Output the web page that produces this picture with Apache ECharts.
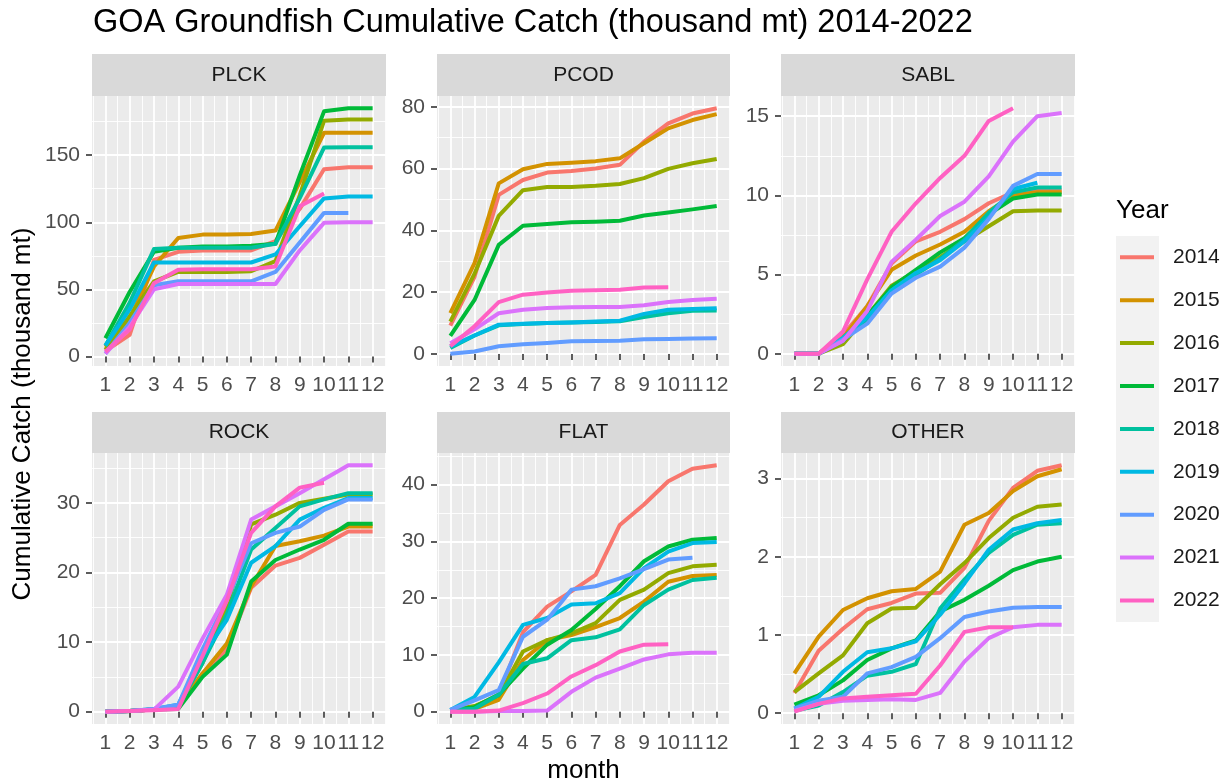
<!DOCTYPE html>
<html>
<head>
<meta charset="utf-8">
<script src="https://cdn.jsdelivr.net/npm/echarts@6/dist/echarts.min.js"></script>
<style>
html, body { margin: 0; padding: 0; background: #fff; }
#main { width: 1226px; height: 784px; }
</style>
</head>
<body>
<div id="main"></div>
<script>
// ---- data (thousand mt, cumulative by month) ----
var years = ['2014', '2015', '2016', '2017', '2018', '2019', '2020', '2021', '2022'];
var yearColors = ['#F8766D', '#D39200', '#93AA00', '#00BA38', '#00C19F', '#00B9E3', '#619CFF', '#DB72FB', '#FF61C3'];
var months = [1, 2, 3, 4, 5, 6, 7, 8, 9, 10, 11, 12];
var panels = ['PLCK', 'PCOD', 'SABL', 'ROCK', 'FLAT', 'OTHER'];

var plck = [
    [4, 16, 72, 78, 79, 79, 79, 86, 110, 139.5, 141, 141],
    [7, 28, 67, 88.3, 90.8, 90.8, 91.3, 93.8, 130, 166.7, 166.7, 166.7],
    [5, 30, 56, 63, 63, 63, 63.5, 71, 120, 175.7, 176.7, 176.7],
    [13.5, 48, 78, 81, 82, 82, 82.5, 84, 135, 182.7, 185, 185],
    [8, 40, 80, 81, 81, 81, 81, 84, 118, 155.7, 156, 156],
    [8, 35, 70, 70, 70, 70, 70, 76, 97, 117.8, 119.3, 119.3],
    [2, 25, 53, 56, 56, 56, 56, 63, 85, 107, 107],
    [2, 22, 50, 54, 54, 54, 54, 54, 79, 99.6, 100, 100],
    [3.5, 20, 54.6, 64.6, 65, 65, 65, 67, 112, 121.5]
];
var pcod = [
    [9.2, 25, 51.5, 56.3, 58.7, 59.2, 60, 61.2, 68.7, 74.6, 77.8, 79.5],
    [13.2, 29.4, 55.2, 59.8, 61.5, 61.9, 62.4, 63.3, 68.2, 73, 75.7, 77.6],
    [10.5, 26, 44.7, 53, 54, 54, 54.4, 55, 56.9, 59.9, 61.7, 63.1],
    [5.9, 17.5, 35.3, 41.5, 42.1, 42.6, 42.8, 43.1, 44.8, 45.8, 46.8, 47.9],
    [2, 6, 9.3, 9.7, 10, 10.2, 10.4, 10.6, 12, 13.2, 14, 14.1],
    [2.5, 6, 9.5, 9.8, 10, 10.2, 10.5, 10.8, 13, 14.3, 14.6, 14.8],
    [0.1, 0.8, 2.5, 3.2, 3.6, 4.1, 4.2, 4.3, 4.8, 4.9, 5, 5.1],
    [3.5, 8, 13.2, 14.3, 14.9, 15.1, 15.2, 15.2, 15.8, 16.8, 17.5, 17.9],
    [2.5, 9, 16.8, 19.2, 19.9, 20.5, 20.6, 20.8, 21.5, 21.6]
];
var sabl = [
    [0, 0, 1.2, 3.0, 5.7, 7.1, 7.7, 8.5, 9.5, 10.2, 10.3, 10.3],
    [0, 0, 1.0, 3.0, 5.3, 6.2, 6.9, 7.7, 9.0, 10.0, 10.2, 10.2],
    [0, 0, 0.6, 2.4, 4.3, 5.2, 6.1, 7.1, 8.05, 9.0, 9.05, 9.05],
    [0, 0, 0.8, 2.4, 4.2, 5.3, 6.4, 7.3, 8.8, 9.8, 10.05, 10.05],
    [0, 0, 0.9, 2.2, 4.0, 5.0, 6.0, 7.2, 8.9, 10.2, 10.5, 10.5],
    [0, 0, 1.0, 2.3, 4.0, 5.1, 5.9, 7.1, 8.6, 10.4, 10.8],
    [0, 0, 0.9, 1.9, 3.8, 4.8, 5.5, 6.7, 8.5, 10.6, 11.35, 11.35],
    [0, 0, 0.8, 2.7, 5.8, 7.2, 8.7, 9.6, 11.2, 13.4, 15.0, 15.2],
    [0, 0, 1.4, 4.7, 7.7, 9.5, 11.1, 12.5, 14.7, 15.5]
];
var rock = [
    [0, 0.1, 0.3, 0.5, 5.5, 9, 17.8, 21, 22.1, 24, 25.9, 25.9],
    [0, 0.1, 0.3, 0.6, 5.5, 9.8, 18, 23.8, 24.5, 25.3, 26.6, 26.6],
    [0, 0.1, 0.3, 0.8, 7, 15, 26.9, 28.3, 30, 30.6, 31.2, 31.2],
    [0, 0.1, 0.3, 0.4, 5, 8.2, 18.7, 21.8, 23.3, 24.7, 27, 27],
    [0, 0.1, 0.3, 0.8, 7, 14, 23.3, 26.4, 29.5, 30.5, 31.4, 31.4],
    [0, 0.1, 0.4, 1.0, 8, 13.2, 21.4, 23.8, 27.6, 29.3, 30.7, 30.7],
    [0, 0.1, 0.4, 1.0, 9, 16, 24.2, 25.7, 26.6, 29, 30.5, 30.5],
    [0, 0.1, 0.3, 3.6, 10.5, 16.8, 27.6, 29.5, 31.4, 33.4, 35.4, 35.4],
    [0, 0.1, 0.2, 0.4, 8, 16, 25.7, 29.5, 32.2, 32.9]
];
var flat = [
    [0.2, 0.8, 3, 14, 18.5, 21.2, 24.1, 32.9, 36.5, 40.6, 42.8, 43.4],
    [0.2, 0.5, 2.1, 9.1, 12.6, 13.5, 14.9, 16.5, 19.4, 22.9, 23.9, 24.1],
    [0.3, 1.0, 2.8, 10.6, 12.6, 13.8, 15.6, 19.7, 21.5, 24.4, 25.6, 25.9],
    [0.3, 0.8, 3.0, 7.6, 11.8, 14.4, 18.1, 22.1, 26.5, 29.1, 30.3, 30.6],
    [0.3, 0.5, 3.0, 8.4, 9.4, 12.6, 13.1, 14.5, 18.8, 21.5, 23.2, 23.6],
    [0.3, 2.6, 8.7, 15.3, 16.5, 18.9, 19.1, 20.9, 25.3, 28.2, 29.7, 29.9],
    [0.3, 2.0, 3.8, 13.2, 16.2, 21.5, 22.1, 23.5, 25.1, 26.8, 27.1],
    [0, 0, 0.1, 0.1, 0.2, 3.5, 6, 7.6, 9.2, 10.1, 10.4, 10.4],
    [0, 0, 0.2, 1.5, 3.2, 6.2, 8.2, 10.6, 11.8, 11.9]
];
var other = [
    [0.26, 0.8, 1.08, 1.33, 1.41, 1.53, 1.54, 1.86, 2.46, 2.88, 3.1, 3.17],
    [0.51, 0.98, 1.32, 1.47, 1.56, 1.59, 1.81, 2.41, 2.56, 2.84, 3.03, 3.12],
    [0.27, 0.51, 0.74, 1.15, 1.34, 1.35, 1.65, 1.92, 2.24, 2.5, 2.64, 2.67],
    [0.11, 0.23, 0.42, 0.68, 0.83, 0.93, 1.3, 1.45, 1.63, 1.83, 1.94, 2.0],
    [0.03, 0.1, 0.27, 0.48, 0.53, 0.63, 1.34, 1.71, 2.05, 2.28, 2.41, 2.43],
    [0.06, 0.21, 0.53, 0.78, 0.83, 0.92, 1.26, 1.66, 2.09, 2.35, 2.43, 2.47],
    [0.06, 0.16, 0.21, 0.51, 0.59, 0.72, 0.96, 1.23, 1.3, 1.35, 1.36, 1.36],
    [0.03, 0.12, 0.16, 0.17, 0.18, 0.17, 0.26, 0.66, 0.96, 1.1, 1.13, 1.13],
    [0.02, 0.12, 0.19, 0.21, 0.23, 0.25, 0.61, 1.04, 1.1, 1.1]
];

// y tick labels per panel
var plckTicks = [0, 50, 100, 150];
var pcodTicks = [0, 20, 40, 60, 80];
var sablTicks = [0, 5, 10, 15];
var rockTicks = [0, 10, 20, 30];
var flatTicks = [0, 10, 20, 30, 40];
var otherTicks = [0, 1, 2, 3];

// ---- layout ----
var FONT = '"Liberation Sans", Arial, sans-serif';
var SMALL = 21;
var colLeft = [92, 437, 781], colWidth = [294, 293, 294];
var rowTop = [96, 453], rowHeight = [270, 271];
var stripTop = [54, 412], stripHeight = [42, 41];

var panelData = [plck, pcod, sabl, rock, flat, other];
var panelTicks = [plckTicks, pcodTicks, sablTicks, rockTicks, flatTicks, otherTicks];

function expandRange(lo, hi) {
    var pad = (hi - lo) * 0.05;
    return [lo - pad, hi + pad];
}
function dataRange(rows) {
    var lo = Infinity, hi = -Infinity;
    rows.forEach(function (r) {
        r.forEach(function (v) { if (v < lo) lo = v; if (v > hi) hi = v; });
    });
    return expandRange(lo, hi);
}
// minor breaks halfway between majors, one extra step on each side
function minorOf(ticks, range) {
    var step = ticks[1] - ticks[0];
    var out = [];
    for (var i = -1; i < ticks.length; i++) {
        var v = +(ticks[0] + step * i + step / 2).toFixed(6);
        if (v >= range[0] && v <= range[1]) out.push(v);
    }
    return out;
}
function inRange(vals, range) {
    return vals.filter(function (v) { return v >= range[0] && v <= range[1]; });
}

var xRange = expandRange(months[0], months[months.length - 1]);
var xMinor = minorOf(months, xRange);

var grids = [], xAxes = [], yAxes = [], series = [], graphics = [];

panels.forEach(function (name, p) {
    var col = p % 3, row = Math.floor(p / 3);
    var yr = dataRange(panelData[p]);
    var major = inRange(panelTicks[p], yr);
    var minor = minorOf(panelTicks[p], yr);

    grids.push({
        left: colLeft[col], top: rowTop[row], width: colWidth[col], height: rowHeight[row],
        show: true, backgroundColor: '#EBEBEB', borderWidth: 0, outerBoundsMode: 'none'
    });

    // major x
    xAxes.push({
        type: 'value', gridIndex: p, min: xRange[0], max: xRange[1], position: 'bottom',
        axisLine: { show: false },
        axisTick: { show: true, customValues: months, length: 6, lineStyle: { color: '#333333', width: 1.6 } },
        axisLabel: { customValues: months, fontSize: SMALL, color: '#4D4D4D', margin: 9, fontFamily: FONT },
        splitLine: { show: true, lineStyle: { color: '#FFFFFF', width: 1.8 } }
    });
    // minor x
    xAxes.push({
        type: 'value', gridIndex: p, min: xRange[0], max: xRange[1], position: 'bottom',
        axisLine: { show: false },
        axisTick: { show: false, customValues: xMinor },
        axisLabel: { show: false, customValues: xMinor },
        splitLine: { show: true, lineStyle: { color: '#FFFFFF', width: 0.9 } }
    });
    // major y
    yAxes.push({
        type: 'value', gridIndex: p, min: yr[0], max: yr[1], position: 'left',
        axisLine: { show: false },
        axisTick: { show: true, customValues: major, length: 6, lineStyle: { color: '#333333', width: 1.6 } },
        axisLabel: { customValues: major, fontSize: SMALL, color: '#4D4D4D', margin: 12, fontFamily: FONT },
        splitLine: { show: true, lineStyle: { color: '#FFFFFF', width: 1.8 } }
    });
    // minor y
    yAxes.push({
        type: 'value', gridIndex: p, min: yr[0], max: yr[1], position: 'left',
        axisLine: { show: false },
        axisTick: { show: false, customValues: minor },
        axisLabel: { show: false, customValues: minor },
        splitLine: { show: true, lineStyle: { color: '#FFFFFF', width: 0.9 } }
    });

    years.forEach(function (y, k) {
        series.push({
            name: y,
            type: 'line',
            xAxisIndex: 2 * p,
            yAxisIndex: 2 * p,
            showSymbol: false,
            symbol: 'none',
            color: yearColors[k],
            lineStyle: { width: 4, color: yearColors[k], join: 'round', cap: 'butt' },
            itemStyle: { color: yearColors[k] },
            data: panelData[p][k].map(function (v, i) { return [months[i], v]; }),
            z: 2 + k
        });
    });

    // facet strip
    graphics.push({
        type: 'rect', silent: true,
        shape: { x: colLeft[col], y: stripTop[row], width: colWidth[col], height: stripHeight[row] },
        style: { fill: '#D9D9D9' }
    });
    graphics.push({
        type: 'text', silent: true,
        x: colLeft[col] + colWidth[col] / 2, y: stripTop[row] + stripHeight[row] / 2,
        style: { text: name, font: SMALL + 'px ' + FONT, fill: '#1A1A1A', align: 'center', verticalAlign: 'middle' }
    });
});

// title, axis titles, legend title and key background
graphics.push({
    type: 'text', silent: true, x: 93, y: 23,
    style: { text: 'GOA Groundfish Cumulative Catch (thousand mt) 2014-2022', font: '32.5px ' + FONT, fill: '#000000', align: 'left', verticalAlign: 'middle' }
});
graphics.push({
    type: 'text', silent: true, x: 23, y: 414, rotation: Math.PI / 2,
    style: { text: 'Cumulative Catch (thousand mt)', font: '26px ' + FONT, fill: '#000000', align: 'center', verticalAlign: 'middle' }
});
graphics.push({
    type: 'text', silent: true, x: 583.5, y: 771,
    style: { text: 'month', font: '26px ' + FONT, fill: '#000000', align: 'center', verticalAlign: 'middle' }
});
graphics.push({
    type: 'text', silent: true, x: 1116, y: 211,
    style: { text: 'Year', font: '26px ' + FONT, fill: '#000000', align: 'left', verticalAlign: 'middle' }
});
graphics.push({
    type: 'rect', silent: true, z: -1,
    shape: { x: 1116, y: 236, width: 43, height: 386 },
    style: { fill: '#F2F2F2' }
});

var chart = echarts.init(document.getElementById('main'));
chart.setOption({
    animation: false,
    backgroundColor: '#FFFFFF',
    textStyle: { fontFamily: FONT },
    grid: grids,
    xAxis: xAxes,
    yAxis: yAxes,
    legend: {
        data: years,
        orient: 'vertical',
        left: 1120, top: 246.8,
        padding: 0,
        icon: 'rect',
        itemWidth: 34, itemHeight: 4,
        itemGap: 21.9,
        selectedMode: false,
        textStyle: { fontSize: SMALL, color: '#1A1A1A', fontFamily: FONT, lineHeight: 21, padding: [0, 0, 0, 14] }
    },
    graphic: graphics,
    series: series
});
</script>
</body>
</html>
